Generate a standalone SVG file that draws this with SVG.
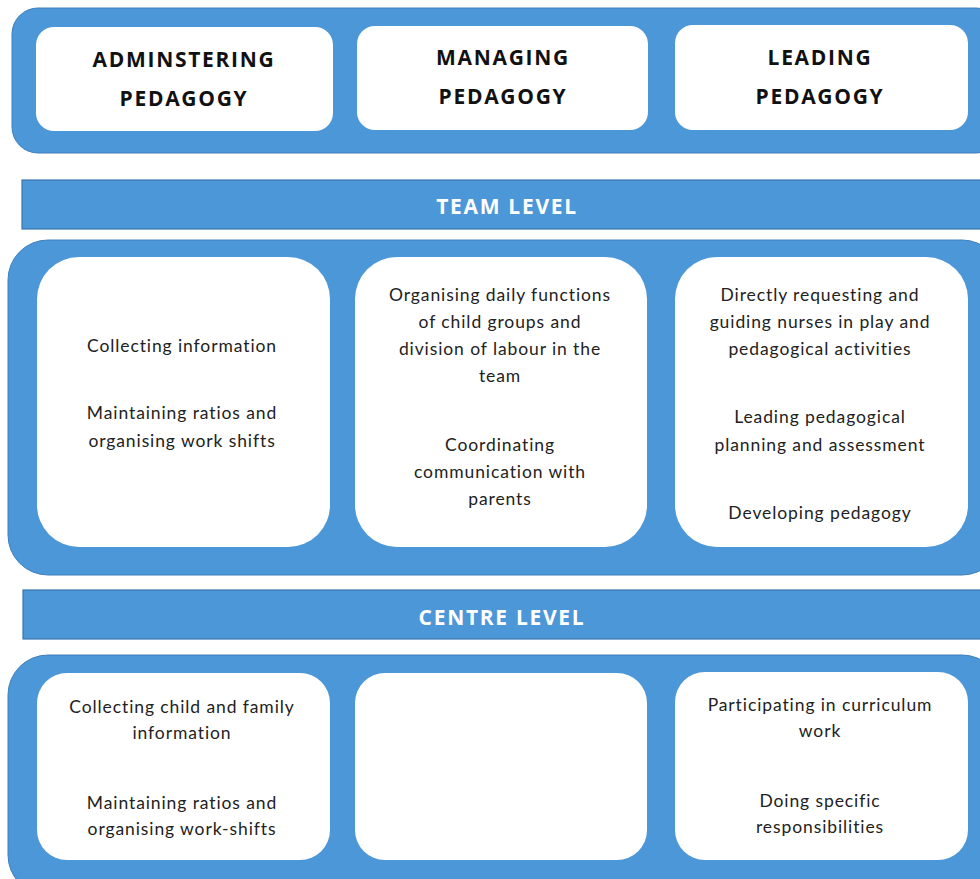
<svg xmlns="http://www.w3.org/2000/svg" width="980" height="879" viewBox="0 0 980 879">
<style>
.panel{fill:#4C97D7;stroke:#3F7FBE;stroke-width:1}
.bar{fill:#4C97D7;stroke:#3A75AE;stroke-width:1.2}
.box{fill:#fff}
.h{font-family:"Open Sans","Liberation Sans",sans-serif;font-weight:bold;font-size:21px;letter-spacing:1.7px;fill:#111;text-anchor:middle}
.lv{font-family:"Open Sans","Liberation Sans",sans-serif;font-weight:bold;font-size:21px;letter-spacing:1.7px;fill:#fff;text-anchor:middle}
.t{font-family:"Lato","Liberation Sans",sans-serif;font-size:17.5px;letter-spacing:0.9px;fill:#222;text-anchor:middle}
</style>
<rect width="980" height="879" fill="#fff"/>
<g id="top-panel">
<rect class="panel" x="12" y="8" width="990" height="145" rx="26"/>
</g>
<g id="adm">
<rect class="box" x="36" y="27" width="297" height="104" rx="18"/>
<text class="h" x="184" y="67">ADMINSTERING</text>
<text class="h" x="184" y="106">PEDAGOGY</text>
</g>
<g id="man">
<rect class="box" x="357" y="26" width="291" height="104" rx="18"/>
<text class="h" x="503" y="65">MANAGING</text>
<text class="h" x="503" y="104">PEDAGOGY</text>
</g>
<g id="lead">
<rect class="box" x="675" y="25" width="293" height="105" rx="18"/>
<text class="h" x="820" y="65">LEADING</text>
<text class="h" x="820" y="104">PEDAGOGY</text>
</g>
<g id="team-level">
<rect class="bar" x="22" y="180" width="970" height="49"/>
<text class="lv" x="507" y="214">TEAM LEVEL</text>
</g>
<g id="team-panel">
<rect class="panel" x="8" y="240" width="994" height="335" rx="40"/>
</g>
<g id="team-adm">
<rect class="box" x="37" y="257" width="293" height="290" rx="42"/>
<text class="t" x="182" y="352">Collecting information</text>
<text class="t" x="182" y="419">Maintaining ratios and</text>
<text class="t" x="182" y="447">organising work shifts</text>
</g>
<g id="team-man">
<rect class="box" x="355" y="257" width="292" height="290" rx="42"/>
<text class="t" x="500" y="301">Organising daily functions</text>
<text class="t" x="500" y="328">of child groups and</text>
<text class="t" x="500" y="355">division of labour in the</text>
<text class="t" x="500" y="382">team</text>
<text class="t" x="500" y="451">Coordinating</text>
<text class="t" x="500" y="478">communication with</text>
<text class="t" x="500" y="505">parents</text>
</g>
<g id="team-lead">
<rect class="box" x="675" y="257" width="293" height="290" rx="42"/>
<text class="t" x="820" y="301">Directly requesting and</text>
<text class="t" x="820" y="328">guiding nurses in play and</text>
<text class="t" x="820" y="355">pedagogical activities</text>
<text class="t" x="820" y="423">Leading pedagogical</text>
<text class="t" x="820" y="451">planning and assessment</text>
<text class="t" x="820" y="519">Developing pedagogy</text>
</g>
<g id="centre-level">
<rect class="bar" x="23" y="590" width="970" height="49"/>
<text class="lv" x="502" y="625">CENTRE LEVEL</text>
</g>
<g id="centre-panel">
<rect class="panel" x="8" y="655" width="994" height="240" rx="40"/>
</g>
<g id="centre-adm">
<rect class="box" x="37" y="673" width="293" height="187" rx="30"/>
<text class="t" x="182" y="713">Collecting child and family</text>
<text class="t" x="182" y="739">information</text>
<text class="t" x="182" y="809">Maintaining ratios and</text>
<text class="t" x="182" y="835">organising work-shifts</text>
</g>
<g id="centre-man">
<rect class="box" x="355" y="673" width="292" height="187" rx="30"/>
</g>
<g id="centre-lead">
<rect class="box" x="675" y="672" width="293" height="188" rx="30"/>
<text class="t" x="820" y="711">Participating in curriculum</text>
<text class="t" x="820" y="737">work</text>
<text class="t" x="820" y="807">Doing specific</text>
<text class="t" x="820" y="833">responsibilities</text>
</g>
<g id="connectors"></g>
</svg>
